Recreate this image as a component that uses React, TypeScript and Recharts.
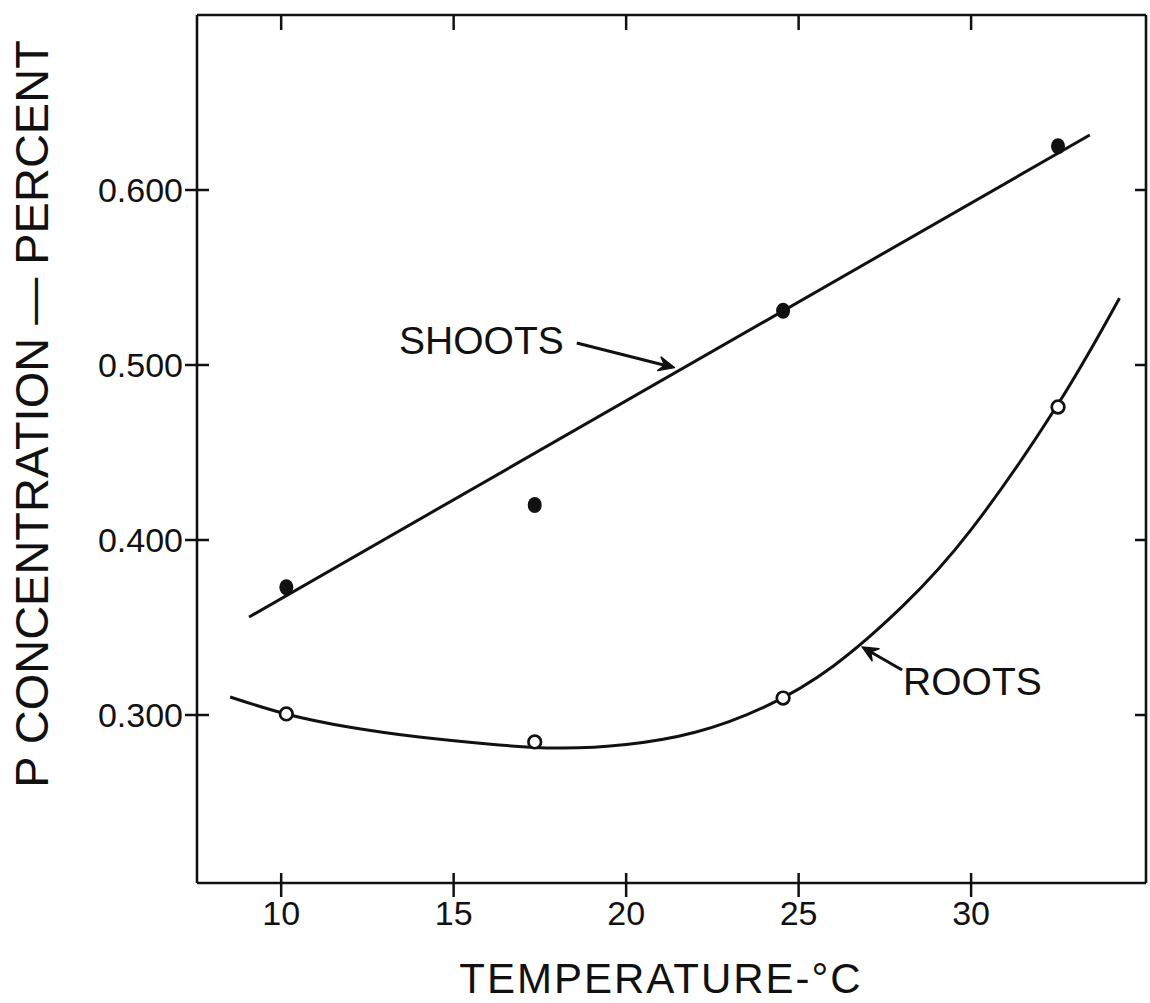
import {
  ComposedChart,
  Line,
  Scatter,
  XAxis,
  YAxis,
  ReferenceLine,
  Label
} from 'recharts';

// measured points (temperature °C, P %)
const temps = [10.15, 17.35, 24.55, 32.52];
const shootsP = [0.373, 0.42, 0.531, 0.625];
const rootsP = [0.3006, 0.2846, 0.3097, 0.476];

// straight line fitted to the shoots
const shootsFitT = [9.07, 33.44];
const shootsFitP = [0.356, 0.6314];

// smooth curve drawn through the roots
const rootsCurveT = [8.52, 10.14, 12, 14, 16, 18, 20, 22, 24, 26, 28, 30, 32.52, 34.3];
const rootsCurveP = [0.3103, 0.3006, 0.293, 0.2874, 0.2834, 0.2811, 0.2831, 0.2901, 0.3045, 0.3279, 0.3619, 0.4059, 0.4777, 0.5382];

const xTicks = [10, 15, 20, 25, 30];
const yTicks = [0.3, 0.4, 0.5, 0.6];
const xDomain = [7.56, 35.07];
const yDomain = [0.204, 0.7];

// label arrows: [tail, tip] in data units
const shootsArrow = [{ x: 18.57, y: 0.5126 }, { x: 21.4, y: 0.4985 }];
const rootsArrow = [{ x: 28.0, y: 0.3257 }, { x: 26.84, y: 0.3389 }];

const toPoints = (t: number[], p: number[]) => t.map((v, i) => ({ t: v, p: p[i] }));

const shoots = toPoints(temps, shootsP);
const roots = toPoints(temps, rootsP);
const shootsFit = toPoints(shootsFitT, shootsFitP);
const rootsCurve = toPoints(rootsCurveT, rootsCurveP);

const FONT = '"Liberation Sans", Arial, sans-serif';
const INK = '#111';

const BottomTick = ({ x, y, payload }: any) => (
  <g>
    <line x1={x} x2={x} y1={y - 10} y2={y + 14} stroke={INK} strokeWidth={2.5} />
    <text x={x} y={y + 42} textAnchor="middle" fontSize={34} fontFamily={FONT} fill={INK}>
      {payload.value}
    </text>
  </g>
);

const LeftTick = ({ x, y, payload }: any) => (
  <g>
    <line x1={x - 12} x2={x + 12} y1={y} y2={y} stroke={INK} strokeWidth={2.5} />
    <text x={x - 14} y={y + 12} textAnchor="end" fontSize={34} fontFamily={FONT} fill={INK}>
      {payload.value.toFixed(3)}
    </text>
  </g>
);

const TopTick = ({ x, y }: any) => (
  <line x1={x} x2={x} y1={y} y2={y + 15} stroke={INK} strokeWidth={2.5} />
);

const RightTick = ({ x, y }: any) => (
  <line x1={x - 11} x2={x} y1={y} y2={y} stroke={INK} strokeWidth={2.5} />
);

const Arrow = ({ x1, y1, x2, y2, text, side }: any) => {
  const a = Math.atan2(y2 - y1, x2 - x1);
  const len = 17;
  const spread = 0.42;
  const b1 = [x2 - len * Math.cos(a - spread), y2 - len * Math.sin(a - spread)];
  const b2 = [x2 - len * Math.cos(a + spread), y2 - len * Math.sin(a + spread)];
  const notch = [x2 - 10 * Math.cos(a), y2 - 10 * Math.sin(a)];
  const left = side === 'left';
  return (
    <g>
      <line x1={x1} y1={y1} x2={notch[0]} y2={notch[1]} stroke={INK} strokeWidth={3} />
      <polygon
        points={`${x2},${y2} ${b1[0]},${b1[1]} ${notch[0]},${notch[1]} ${b2[0]},${b2[1]}`}
        fill={INK}
        stroke={INK}
        strokeWidth={1.5}
        strokeLinejoin="round"
      />
      <text
        x={left ? x1 - 13 : x1 + 1}
        y={left ? y1 + 11 : y1 + 25}
        textAnchor={left ? 'end' : 'start'}
        fontSize={39}
        fontFamily={FONT}
        fill={INK}
      >
        {text}
      </text>
    </g>
  );
};

const FilledDot = ({ cx, cy }: any) => <ellipse cx={cx} cy={cy} rx={7} ry={8} fill={INK} />;
const OpenDot = ({ cx, cy }: any) => (
  <circle cx={cx} cy={cy} r={6.3} fill="#fff" stroke={INK} strokeWidth={2.7} />
);

const axisLine = { stroke: INK, strokeWidth: 2.6 };

export default function App() {
  return (
    <div style={{ position: 'absolute', left: 0, top: 0, background: '#fff' }}>
      <ComposedChart width={1150} height={1003} margin={{ top: 0, right: 0, bottom: 0, left: 0 }}>
        <XAxis
          type="number"
          dataKey="t"
          domain={xDomain}
          allowDataOverflow
          ticks={xTicks}
          interval={0}
          height={120}
          tickSize={0}
          tickMargin={0}
          tickLine={false}
          axisLine={axisLine}
          tick={(p: any) => <BottomTick {...p} />}
        >
          <Label
            content={({ viewBox }: any) => (
              <text
                x={661}
                y={viewBox.y + 110}
                textAnchor="middle"
                fontSize={42}
                letterSpacing={2}
                fontFamily={FONT}
                fill={INK}
              >
                TEMPERATURE-°C
              </text>
            )}
          />
        </XAxis>
        <XAxis
          xAxisId="top"
          orientation="top"
          type="number"
          dataKey="t"
          domain={xDomain}
          allowDataOverflow
          ticks={xTicks}
          interval={0}
          height={15}
          tickSize={0}
          tickMargin={0}
          tickLine={false}
          axisLine={axisLine}
          tick={(p: any) => <TopTick {...p} />}
        />
        <YAxis
          type="number"
          dataKey="p"
          domain={yDomain}
          allowDataOverflow
          ticks={yTicks}
          interval={0}
          width={197}
          tickSize={0}
          tickMargin={0}
          tickLine={false}
          axisLine={axisLine}
          tick={(p: any) => <LeftTick {...p} />}
        >
          <Label
            content={() => (
              <text
                x={31}
                y={414}
                transform="rotate(-90 31 414)"
                textAnchor="middle"
                dominantBaseline="central"
                fontSize={47}
                fontFamily={FONT}
                fill={INK}
              >
                P CONCENTRATION — PERCENT
              </text>
            )}
          />
        </YAxis>
        <YAxis
          yAxisId="right"
          orientation="right"
          type="number"
          dataKey="p"
          domain={yDomain}
          allowDataOverflow
          ticks={yTicks}
          interval={0}
          width={4}
          tickSize={0}
          tickMargin={0}
          tickLine={false}
          axisLine={axisLine}
          tick={(p: any) => <RightTick {...p} />}
        />

        <Line
          data={shootsFit}
          dataKey="p"
          type="linear"
          stroke={INK}
          strokeWidth={3}
          dot={false}
          activeDot={false}
          isAnimationActive={false}
        />
        <Line
          data={rootsCurve}
          dataKey="p"
          type="natural"
          stroke={INK}
          strokeWidth={3}
          dot={false}
          activeDot={false}
          isAnimationActive={false}
        />
        <Scatter data={shoots} dataKey="p" shape={(p: any) => <FilledDot {...p} />} isAnimationActive={false} />
        <Scatter data={roots} dataKey="p" shape={(p: any) => <OpenDot {...p} />} isAnimationActive={false} />

        <ReferenceLine
          segment={shootsArrow}
          shape={(p: any) => <Arrow {...p} text="SHOOTS" side="left" />}
        />
        <ReferenceLine
          segment={rootsArrow}
          shape={(p: any) => <Arrow {...p} text="ROOTS" side="right" />}
        />
      </ComposedChart>
    </div>
  );
}
